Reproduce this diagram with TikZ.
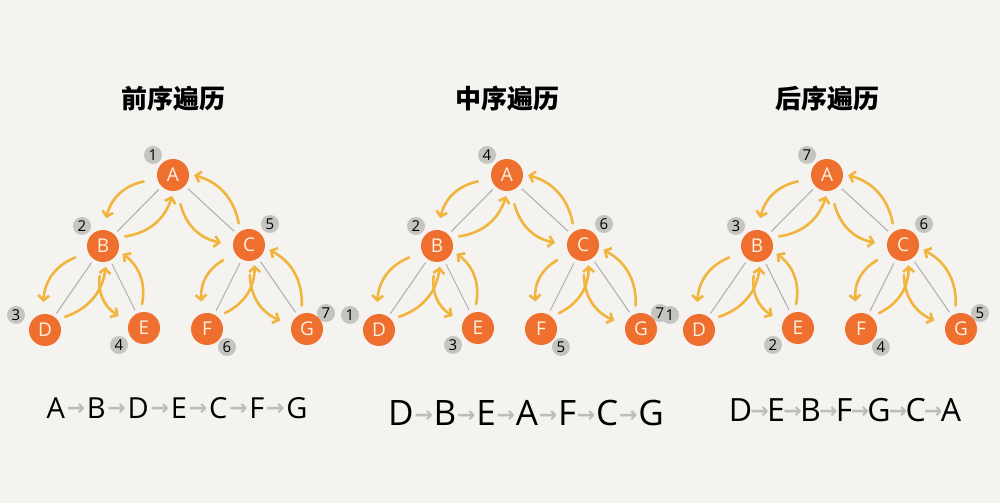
\documentclass[tikz,border=0pt]{standalone}
\usepackage{fontspec}
\usetikzlibrary{arrows.meta,calc}
\setmainfont{Open Sans}
\newfontfamily\cjk{Noto Sans CJK SC}
\newfontfamily\dejavu{DejaVu Sans}
\definecolor{sfondo}{HTML}{F5F3F0}
\definecolor{arancio}{HTML}{EE6F2E}
\definecolor{giallo}{HTML}{F1B53E}
\definecolor{grigio}{HTML}{B2B2B2}
\definecolor{badge}{HTML}{C4C4C0}
\definecolor{freccia}{HTML}{BDBDB4}
\newcommand{\freccina}{\hspace{\kk}\raisebox{3pt}{\color{freccia}\dejavu\bfseries\fontsize{22}{22}\selectfont →}\hspace{\kk}}

\begin{document}
\begin{tikzpicture}[x=1pt, y=1pt,
    nodo/.style={circle, fill=arancio, minimum size=32pt, inner sep=0pt, text=white!88!orange, font=\fontsize{19}{19}\selectfont},
    numero/.style={circle, fill=badge, minimum size=18pt, inner sep=0pt, font=\fontsize{15}{15}\selectfont},
    ramo/.style={grigio, line width=1.1pt, shorten <=4pt, shorten >=4pt},
    giro/.style={giallo, line width=2.6pt, line cap=round, line join=round, -{Straight Barb[length=5pt,width=11pt]}}]
    % Sfondo
    \fill[sfondo] (0,0) rectangle (1000,503);

    \foreach \t/\ox/\nA/\nB/\nC/\nD/\nE/\nF/\nG/\titolo/\sx/\sy/\fs/\kk/\seq in {
        1/173/1/2/5/3/4/6/7/前序遍历/4/95/29/1.8pt/{A\freccina B\freccina D\freccina E\freccina C\freccina F\freccina G},
        2/507/4/2/6/1/3/5/7/中序遍历/19/90/35/0.8pt/{D\freccina B\freccina E\freccina A\freccina F\freccina C\freccina G},
        3/827/7/3/6/1/2/4/5/后序遍历/18/93/32/-1.7pt/{D\freccina E\freccina B\freccina F\freccina G\freccina C\freccina A}} {
        \begin{scope}[shift={(\ox,0)}]
            % Titolo
            \node[font=\cjk\bfseries\fontsize{26}{26}\selectfont] (titolo\t) at (0,404) {\titolo};

            % Numeri dell'ordine di visita (dietro ai nodi)
            \node[numero] (nA\t) at (-20,348) {\nA};
            \node[numero] (nB\t) at (-91,277) {\nB};
            \node[numero] (nC\t) at (97,279) {\nC};
            \node[numero] (nD\t) at (-157,188) {\nD};
            \node[numero] (nE\t) at (-54,158) {\nE};
            \node[numero] (nF\t) at (54,156) {\nF};
            \node[numero] (nG\t) at (153,190) {\nG};

            % Nodi dell'albero
            \node[nodo] (A\t) at (0,328) {A};
            \node[nodo] (B\t) at (-70,257) {B};
            \node[nodo] (C\t) at (76,258) {C};
            \node[nodo] (D\t) at (-128,173) {D};
            \node[nodo] (E\t) at (-29,175) {E};
            \node[nodo] (F\t) at (34,174) {F};
            \node[nodo] (G\t) at (134,174) {G};

            % Sequenza della visita
            \node[font=\fontsize{\fs}{\fs}\selectfont] (seq\t) at (\sx,\sy) {\seq};
        \end{scope}

        % Rami (grigi) e frecce del percorso: giu' a destra del ramo, su dall'altra parte
        \foreach \p/\q in {A/B, B/D, B/E, A/C, C/F, C/G} {
            \draw[ramo] (\p\t) -- (\q\t);
            \draw[giro] ($(\p\t)!30pt!-33:(\q\t)$) to[bend right=32] ($(\q\t)!28pt!38:(\p\t)$);
            \draw[giro] ($(\q\t)!24pt!-22:(\p\t)$) to[bend right=32] ($(\p\t)!21pt!42:(\q\t)$);
        }
    }
\end{tikzpicture}
\end{document}
